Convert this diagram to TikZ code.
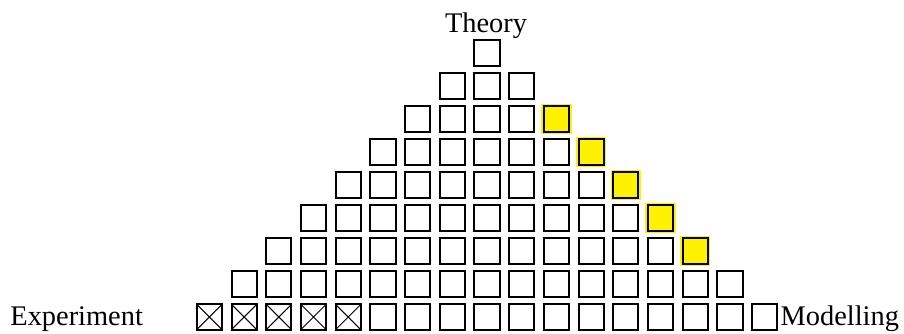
\documentclass[tikz,border=0pt]{standalone}
\usepackage{fontspec}
\setmainfont{Liberation Serif}
\usetikzlibrary{positioning}

\begin{document}
\begin{tikzpicture}[
        x=0.5pt, y=-0.5pt,
        font=\fontsize{14.2pt}{17pt}\selectfont,
        cell/.style={rectangle, draw, line width=1pt, minimum size=12.6pt, inner sep=0pt},
        hot/.style={cell, fill=yellow, preaction={draw=yellow, line width=2.6pt}},
        crossed/.style={cell, path picture={
            \draw[line width=0.5pt] (path picture bounding box.north west) -- (path picture bounding box.south east)
                                    (path picture bounding box.south west) -- (path picture bounding box.north east);}},
    ]
        \useasboundingbox (0,0) rectangle (904,333);

        % pyramid of cells
        \foreach \r in {1,...,9} {
            \pgfmathtruncatemacro{\n}{2*\r-1}
            \foreach \c in {1,...,\n} {
                \def\kind{cell}
                \ifnum\r>2 \ifnum\r<8 \ifnum\c=\n \def\kind{hot}\fi\fi\fi
                \ifnum\r=9 \ifnum\c<6 \def\kind{crossed}\fi\fi
                \node[\kind] (c-\r-\c) at ({487+(\c-\r)*34.7}, {53+(\r-1)*33}) {};
            }
        }

        % labels
        \node[anchor=base] (theory) at (486,32) {Theory};
        \node[anchor=base west, inner sep=0pt] (experiment) at (10,325) {Experiment};
        \node[anchor=base west, inner sep=1pt] (modelling) at (c-9-17.east |- 0,325) {Modelling};
    \end{tikzpicture}
\end{document}
